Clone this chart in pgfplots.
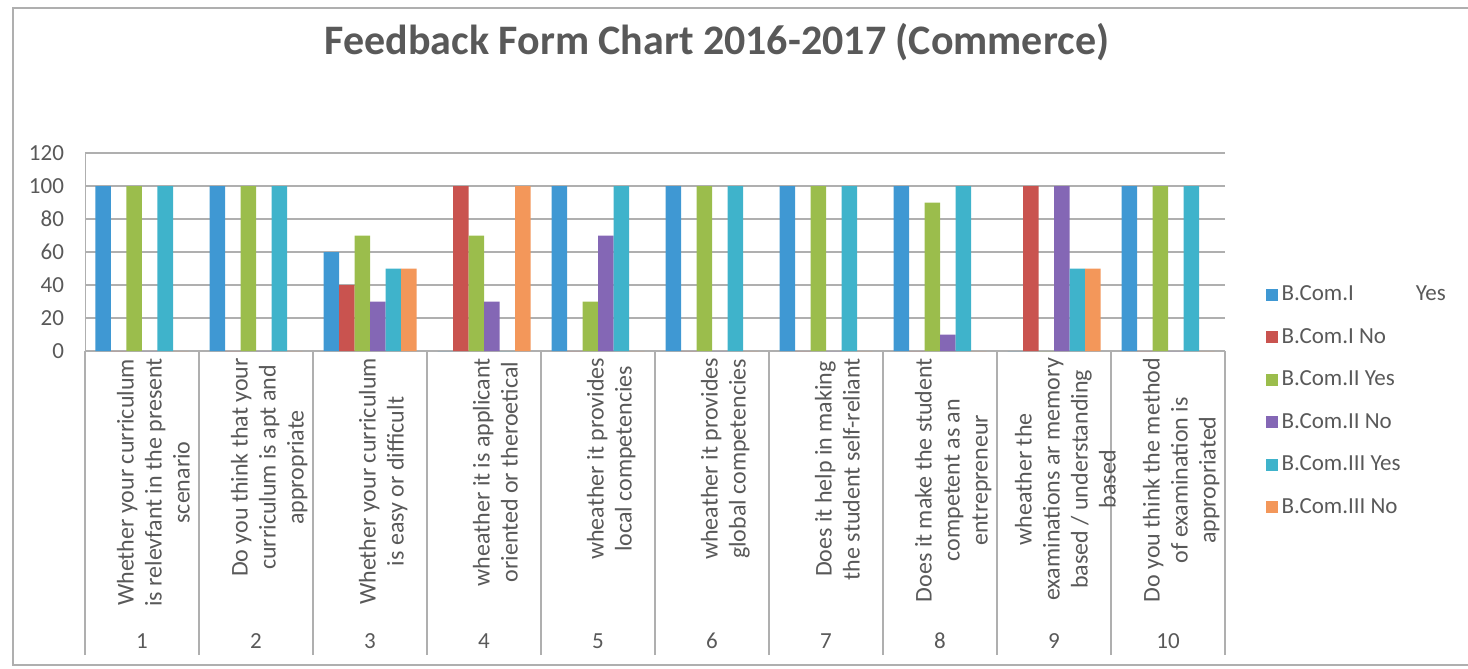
\documentclass[border=0pt]{standalone}
\usepackage{fontspec}
\setmainfont{Carlito}
\usepackage{pgfplots}
\usepackage{pgfplotstable}
\pgfplotsset{compat=1.18}
\definecolor{bcIy}{HTML}{3F98D3}
\definecolor{bcIn}{HTML}{C9534F}
\definecolor{bcIIy}{HTML}{9BBD4C}
\definecolor{bcIIn}{HTML}{8467B5}
\definecolor{bcIIIy}{HTML}{3FB3CB}
\definecolor{bcIIIn}{HTML}{F3975A}
\definecolor{txt}{HTML}{595959}
\definecolor{gridc}{HTML}{AFAFAF}

% centred multi-line category label
\newcommand{\ql}[1]{\begin{tabular}{@{}c@{}}#1\end{tabular}}

\pgfplotstableread{
q  iy   in   iiy  iin  iiiy iiin
1  100  0    100  0    100  0
2  100  0    100  0    100  0
3  60   40   70   30   50   50
4  0    100  70   30   0    100
5  100  0    30   70   100  0
6  100  0    100  0    100  0
7  100  0    100  0    100  0
8  100  0    90   10   100  0
9  0    100  0    100  50   50
10 100  0    100  0    100  0
}\feedback

\begin{document}
\begin{tikzpicture}
\useasboundingbox (-42.5pt,-159pt) rectangle (691.5pt,175.5pt);
\draw[gridc, line width=0.6pt] (700pt,171.5pt) -- (-36pt,171.5pt) -- (-36pt,-157pt) -- (700pt,-157pt);
\begin{axis}[
    scale only axis,
    width=570pt, height=99pt,
    ybar=0pt, bar width=7.75pt,
    xmin=0.5, xmax=10.5,
    ymin=0, ymax=120,
    ytick={0,20,...,120},
    xtick={1,...,10},
    minor xtick={0.5,1.5,...,10.5},
    axis lines=left,
    axis line style={-, gridc},
    ymajorgrids, grid style={gridc, line width=0.6pt},
    tick align=outside,
    major tick length=0pt,
    minor tick length=152pt,
    minor tick style={gridc, line width=0.6pt},
    /pgf/number format/assume math mode=true,
    yticklabel style={font=\fontsize{11.5}{13}\selectfont, text=txt, xshift=-7pt},
    xticklabels={
        {\ql{Whether your curriculum\\is relevfant in the present\\scenario}},
        {\ql{Do you think that your\\curriculum is apt and\\appropriate}},
        {\ql{Whether your curriculum\\is easy or difficult}},
        {\ql{wheather it is applicant\\oriented or theroetical}},
        {\ql{wheather it provides\\local competencies}},
        {\ql{wheather it provides\\global competencies}},
        {\ql{Does it help in making\\the student self-reliant}},
        {\ql{Does it make the student\\competent as an\\entrepreneur}},
        {\ql{wheather the\\examinations ar memory\\based / understanding\\based}},
        {\ql{Do you think the method\\of examination is\\appropriated}}},
    xticklabel style={rotate=90, anchor=east, text=txt,
        font=\fontsize{12}{14}\selectfont, yshift=-7pt},
    legend style={draw=none, at={(1.03,-0.2525)}, anchor=west,
        font=\fontsize{11.5}{13}\selectfont, text=txt, row sep=8.3pt},
    legend cell align=left,
    legend image code/.code={\fill[#1] (0pt,-3pt) rectangle (6pt,3pt);},
    clip=false,
]
\addplot[fill=bcIy, draw=none] table[x=q, y=iy] {\feedback};
\addplot[fill=bcIn, draw=none] table[x=q, y=in] {\feedback};
\addplot[fill=bcIIy, draw=none] table[x=q, y=iiy] {\feedback};
\addplot[fill=bcIIn, draw=none] table[x=q, y=iin] {\feedback};
\addplot[fill=bcIIIy, draw=none] table[x=q, y=iiiy] {\feedback};
\addplot[fill=bcIIIn, draw=none] table[x=q, y=iiin] {\feedback};
\legend{B.Com.I\hspace{31pt}Yes, B.Com.I No, B.Com.II Yes, B.Com.II No, B.Com.III Yes, B.Com.III No}
\pgfplotsinvokeforeach{1,...,10}{
    \node[anchor=base, text=txt, font=\fontsize{11.5}{13}\selectfont, yshift=-148.5pt] at (axis cs:#1,0) {#1};
}
\end{axis}
\node[anchor=base, text=txt, font=\fontsize{21}{25}\selectfont\bfseries] at (316pt,148pt) {Feedback Form Chart 2016-2017 (Commerce)};
\end{tikzpicture}
\end{document}
